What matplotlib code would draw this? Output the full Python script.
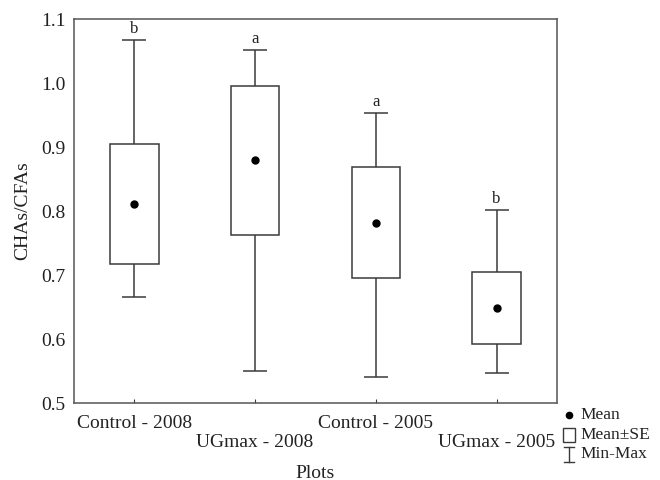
import matplotlib
matplotlib.use("Agg")
import matplotlib.pyplot as plt
from matplotlib.lines import Line2D
from matplotlib.patches import Rectangle

# ---- data ----
categories = ["Control - 2008", "UGmax - 2008", "Control - 2005", "UGmax - 2005"]
means = [0.811, 0.880, 0.782, 0.649]
se_upper = [0.904, 0.996, 0.869, 0.705]
se_lower = [0.717, 0.763, 0.695, 0.592]
maxs = [1.067, 1.052, 0.953, 0.802]
mins = [0.665, 0.550, 0.541, 0.547]
letters = ["b", "a", "a", "b"]
yticks = [0.5, 0.6, 0.7, 0.8, 0.9, 1.0, 1.1]

plt.rcParams['font.family'] = ['Liberation Serif', 'DejaVu Serif']
col = '#3a3a3a'

fig = plt.figure(figsize=(6.6, 4.8), dpi=100)
ax = fig.add_axes([74/660, 1-403/480, (557-74)/660, (403-19)/480])

x = list(range(len(categories)))
heights = [u - l for u, l in zip(se_upper, se_lower)]
ax.bar(x, heights, bottom=se_lower, width=0.4, fill=False, edgecolor=col, linewidth=1.1, zorder=2)
ax.vlines(x, se_upper, maxs, color=col, linewidth=1.1)
ax.vlines(x, mins, se_lower, color=col, linewidth=1.1)
ax.hlines(maxs, [i - 0.1 for i in x], [i + 0.1 for i in x], color=col, linewidth=1.1)
ax.hlines(mins, [i - 0.1 for i in x], [i + 0.1 for i in x], color=col, linewidth=1.1)
ax.plot(x, means, 'o', color='black', markersize=5, zorder=3)
for xi, m, t in zip(x, maxs, letters):
    ax.annotate(t, (xi, m), xytext=(0, 2), textcoords='offset points',
                ha='center', va='bottom', fontsize=12, color='#222222')

ax.set_xlim(-0.5, 3.5)
ax.set_ylim(0.5, 1.1)
ax.set_yticks(yticks)
ax.set_yticklabels([f"{v:.1f}" for v in yticks], fontsize=14)
ax.tick_params(axis='y', length=0, pad=6, labelcolor='#222222')
ax.set_xticks(x)
ax.set_xticklabels([c if i % 2 == 0 else "\n" + c for i, c in enumerate(categories)],
                   fontsize=14, linespacing=1.15)
ax.tick_params(axis='x', direction='in', length=3, color=col, pad=9, labelcolor='#222222')
for s in ax.spines.values():
    s.set_color('#555555')
    s.set_linewidth(1.1)

ax.set_ylabel("CHAs/CFAs", fontsize=14, color='#222222', labelpad=7)
fig.text(315/660, 1-473/480, "Plots", ha='center', va='center', fontsize=14, color='#222222')

# ---- legend (manual, outside at bottom right) ----
def fx(px):
    return px / 660
def fy(py):
    return 1 - py / 480

fig.add_artist(Line2D([fx(569)], [fy(415)], marker='o', color='black', markersize=4.5, linestyle='none'))
fig.text(fx(580), fy(415), "Mean", ha='left', va='center', fontsize=12.5, color='#222222')
fig.add_artist(Rectangle((fx(563), fy(442)), fx(12), 14/480, fill=False, edgecolor=col, linewidth=1.0,
                         transform=fig.transFigure))
fig.text(fx(580), fy(435), "Mean±SE", ha='left', va='center', fontsize=12.5, color='#222222')
fig.add_artist(Line2D([fx(569), fx(569)], [fy(447), fy(462)], color=col, linewidth=1.0))
fig.add_artist(Line2D([fx(564), fx(574)], [fy(447), fy(447)], color=col, linewidth=1.0))
fig.add_artist(Line2D([fx(564), fx(574)], [fy(462), fy(462)], color=col, linewidth=1.0))
fig.text(fx(580), fy(454), "Min-Max", ha='left', va='center', fontsize=12.5, color='#222222')

fig.savefig("out.png", dpi=100)
